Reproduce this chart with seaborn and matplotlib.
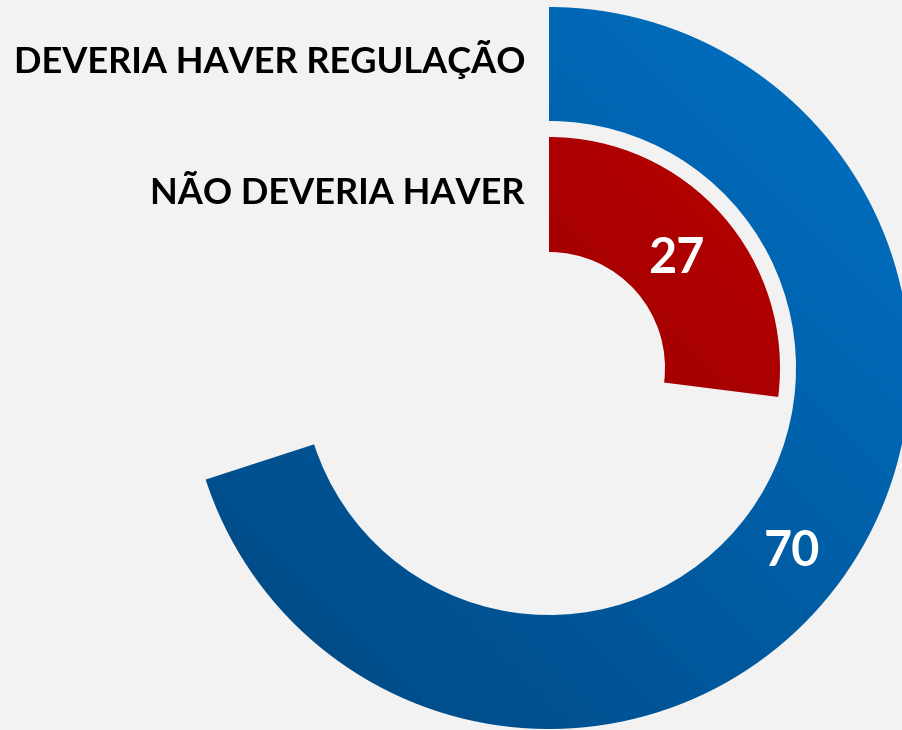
import numpy as np
import matplotlib
matplotlib.use('Agg')
import matplotlib.pyplot as plt
from matplotlib.patches import Wedge
from matplotlib.colors import LinearSegmentedColormap
import seaborn as sns

sns.set_theme(style='white')
plt.rcParams['font.family'] = ['Lato', 'DejaVu Sans']

# data
categories = ['DEVERIA HAVER REGULAÇÃO', 'NÃO DEVERIA HAVER']
values = [70, 27]
light_colors = ['#0072C6', '#B80000']
dark_colors = ['#00467F', '#8A0000']

bg = '#F2F2F2'
fig = plt.figure(figsize=(9.02, 7.3), dpi=100, facecolor=bg)
ax = fig.add_axes([0, 0, 1, 1])
ax.set_facecolor(bg)

cx, cy = 549, 362
rings = [(361, 114), (231, 115)]  # outer radius, ring width

for val, (r, w), c1, c2 in zip(values, rings, light_colors, dark_colors):
    theta1 = 90 - 360 * val / 100
    wedge = Wedge((cx, cy), r, theta1, 90, width=w, facecolor='none', edgecolor='none')
    ax.add_patch(wedge)
    # diagonal gradient, dark at lower-left, light at upper-right
    gx, gy = np.meshgrid(np.linspace(0, 1, 300), np.linspace(0, 1, 300))
    grad = (gx + gy) / 2
    cmap = LinearSegmentedColormap.from_list('g', [c2, c1])
    ax.imshow(grad, extent=(cx - r, cx + r, cy - r, cy + r), origin='lower',
              cmap=cmap, clip_path=wedge, interpolation='bilinear', zorder=2)
    # value label in the middle of the arc
    mid = np.deg2rad(90 - 360 * val / 200)
    rm = r - w / 2
    ax.text(cx + rm * np.cos(mid) - 3, cy + rm * np.sin(mid) - 5, str(val), color='white',
            fontsize=35, fontweight='bold', ha='center', va='center', zorder=3)

# category labels to the left of the ring starts
label_y = [657, 526]
for lab, y in zip(categories, label_y):
    ax.text(525, y, lab, fontsize=26, fontweight='bold', color='black',
            ha='right', va='baseline')

ax.set_xlim(0, 902)
ax.set_ylim(0, 730)
ax.set_aspect('auto')
ax.axis('off')

fig.savefig('out.png', dpi=100, facecolor=bg)
